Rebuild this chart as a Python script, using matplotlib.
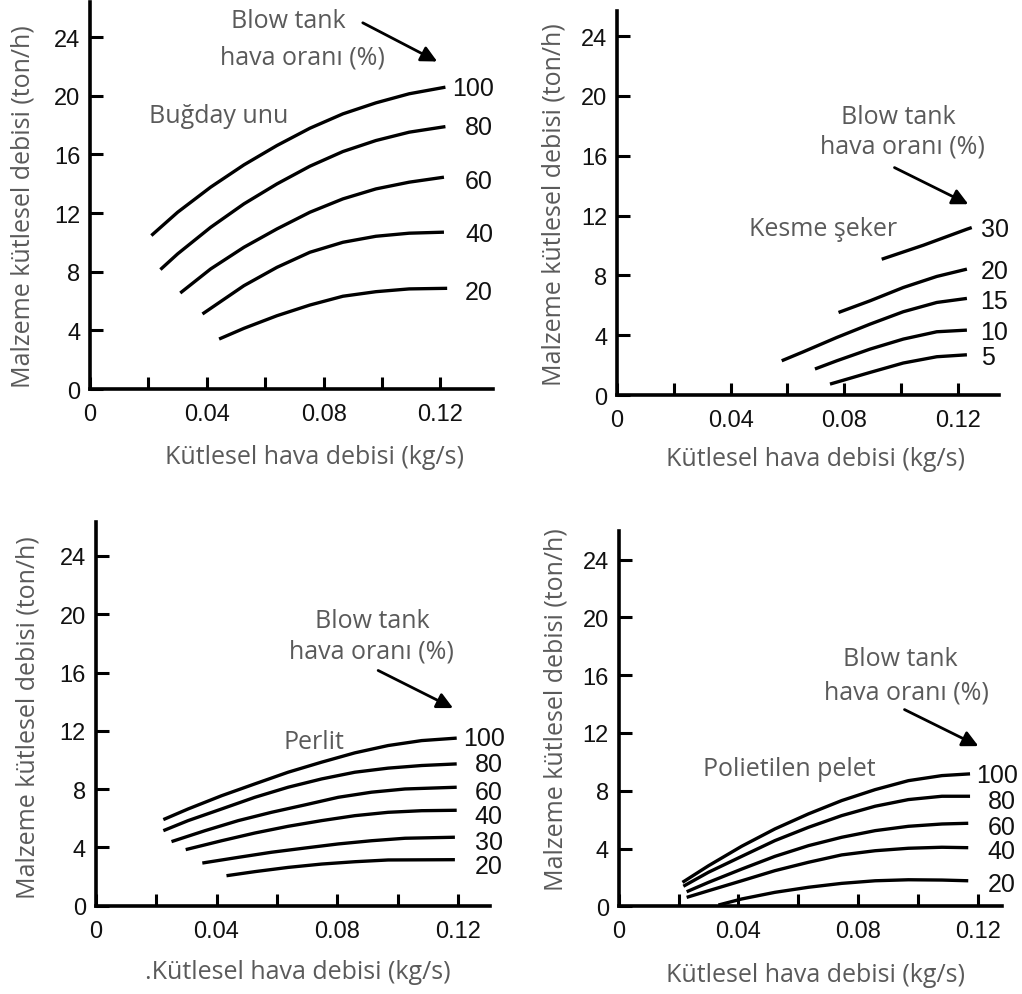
import matplotlib
matplotlib.use("Agg")
import matplotlib.pyplot as plt

# ---- data (x: kg/s, y: ton/h) ----
# Buğday unu
bugday_levels = ["100", "80", "60", "40", "20"]
bugday_x = [
    [0.0210, 0.0300, 0.0413, 0.0527, 0.0640, 0.0753, 0.0866, 0.0979, 0.1093, 0.1217],
    [0.0241, 0.0300, 0.0413, 0.0527, 0.0640, 0.0753, 0.0866, 0.0979, 0.1093, 0.1217],
    [0.0309, 0.0413, 0.0527, 0.0640, 0.0753, 0.0866, 0.0979, 0.1093, 0.1212],
    [0.0385, 0.0527, 0.0640, 0.0753, 0.0866, 0.0979, 0.1093, 0.1212],
    [0.0442, 0.0527, 0.0640, 0.0753, 0.0866, 0.0979, 0.1093, 0.1223],
]
bugday_y = [
    [10.47, 12.06, 13.77, 15.29, 16.61, 17.79, 18.77, 19.52, 20.14, 20.59],
    [8.15, 9.22, 11.03, 12.63, 13.99, 15.20, 16.20, 16.95, 17.52, 17.90],
    [6.55, 8.19, 9.67, 10.92, 12.06, 12.97, 13.65, 14.11, 14.45],
    [5.12, 7.05, 8.30, 9.33, 10.01, 10.42, 10.63, 10.70],
    [3.41, 4.14, 5.00, 5.73, 6.33, 6.64, 6.83, 6.87],
]
bugday_label_y = [20.5, 17.86, 14.2, 10.58, 6.6]

# Kesme şeker
seker_levels = ["30", "20", "15", "10", "5"]
seker_x = [
    [0.0932, 0.1079, 0.1232, 0.1249],
    [0.0780, 0.0891, 0.1008, 0.1126, 0.1232],
    [0.0580, 0.0656, 0.0774, 0.0891, 0.1008, 0.1126, 0.1232],
    [0.0697, 0.0774, 0.0891, 0.1008, 0.1126, 0.1232],
    [0.0750, 0.0891, 0.1008, 0.1126, 0.1232],
]
seker_y = [
    [9.08, 10.02, 11.09, 11.20],
    [5.52, 6.30, 7.19, 7.93, 8.42],
    [2.29, 2.89, 3.85, 4.74, 5.57, 6.19, 6.46],
    [1.74, 2.29, 3.07, 3.74, 4.23, 4.34],
    [0.73, 1.51, 2.14, 2.56, 2.69],
]
seker_label_y = [11.13, 8.3, 6.3, 4.23, 2.52]

# Perlit
perlit_levels = ["100", "80", "60", "40", "30", "20"]
perlit_x = [
    [0.0224, 0.0306, 0.0417, 0.0527, 0.0637, 0.0748, 0.0858, 0.0968, 0.1079, 0.1195],
    [0.0224, 0.0306, 0.0417, 0.0527, 0.0637, 0.0748, 0.0858, 0.0968, 0.1079, 0.1195],
    [0.0251, 0.0362, 0.0472, 0.0582, 0.0693, 0.0803, 0.0913, 0.1024, 0.1195],
    [0.0298, 0.0417, 0.0527, 0.0637, 0.0748, 0.0858, 0.0968, 0.1079, 0.1195],
    [0.0353, 0.0472, 0.0582, 0.0693, 0.0803, 0.0913, 0.1024, 0.1189],
    [0.0433, 0.0527, 0.0637, 0.0748, 0.0858, 0.0968, 0.1189],
]
perlit_y = [
    [5.91, 6.64, 7.55, 8.36, 9.16, 9.85, 10.49, 10.99, 11.33, 11.50],
    [5.15, 5.84, 6.64, 7.44, 8.13, 8.70, 9.16, 9.44, 9.62, 9.73],
    [4.40, 5.15, 5.84, 6.41, 6.92, 7.44, 7.79, 8.01, 8.13],
    [3.85, 4.46, 4.99, 5.45, 5.84, 6.18, 6.41, 6.52, 6.55],
    [2.93, 3.32, 3.67, 3.96, 4.24, 4.46, 4.63, 4.70],
    [2.06, 2.34, 2.63, 2.86, 3.02, 3.14, 3.16],
]
perlit_label_y = [11.5, 9.69, 7.79, 6.14, 4.35, 2.75]

# Polietilen pelet
pelet_levels = ["100", "80", "60", "40", "20"]
pelet_x = [
    [0.0213, 0.0300, 0.0411, 0.0522, 0.0634, 0.0745, 0.0857, 0.0968, 0.1080, 0.1174],
    [0.0216, 0.0300, 0.0411, 0.0522, 0.0634, 0.0745, 0.0857, 0.0968, 0.1080, 0.1174],
    [0.0227, 0.0300, 0.0411, 0.0522, 0.0634, 0.0745, 0.0857, 0.0968, 0.1080, 0.1168],
    [0.0227, 0.0300, 0.0411, 0.0522, 0.0634, 0.0745, 0.0857, 0.0968, 0.1080, 0.1168],
    [0.0333, 0.0411, 0.0522, 0.0634, 0.0745, 0.0857, 0.0968, 0.1080, 0.1168],
]
pelet_y = [
    [1.66, 2.81, 4.16, 5.36, 6.40, 7.32, 8.08, 8.70, 9.05, 9.17],
    [1.39, 2.36, 3.46, 4.55, 5.47, 6.28, 6.93, 7.39, 7.62, 7.62],
    [1.01, 1.66, 2.58, 3.46, 4.20, 4.78, 5.24, 5.54, 5.70, 5.75],
    [0.62, 1.08, 1.77, 2.47, 3.05, 3.56, 3.85, 4.02, 4.09, 4.06],
    [0.09, 0.51, 0.97, 1.32, 1.59, 1.77, 1.84, 1.82, 1.77],
]
pelet_label_y = [9.1, 7.32, 5.47, 3.85, 1.55]

ytick_vals = [0, 4, 8, 12, 16, 20, 24]
xtick_vals = [0, 0.02, 0.04, 0.06, 0.08, 0.10, 0.12]
xtick_text = ["0", "", "0.04", "", "0.08", "", "0.12"]

xlabel = "Kütlesel hava debisi (kg/s)"
ylabel = "Malzeme kütlesel debisi (ton/h)"

GRAY = "#5a5a5a"
NUM_FONT = "Liberation Sans"
TXT_FONT = "Open Sans"

fig = plt.figure(figsize=(10.22, 9.95), dpi=100)


def panel(rect, xmax, ymax, xs, ys, levels, label_x, label_y,
          name, name_xy, blow_xy, tank_xy, arr_from, arr_to, xl_xy, yl_xy, xl_text):
    ax = fig.add_axes(rect)
    for x, y in zip(xs, ys):
        ax.plot(x, y, color="black", lw=2.4, solid_capstyle="butt", solid_joinstyle="round")
    for i, lv in enumerate(levels):
        lx = label_x[0] if i == 0 else label_x[1]
        ax.text(lx, label_y[i], lv, ha="left", va="center", fontsize=18,
                family=NUM_FONT, color="#111111")
    ax.text(name_xy[0], name_xy[1], name, ha="center", va="center",
            fontsize=18, family=TXT_FONT, color=GRAY)
    ax.text(blow_xy[0], blow_xy[1], "Blow tank", ha="center", va="center",
            fontsize=18, family=TXT_FONT, color=GRAY)
    ax.text(tank_xy[0], tank_xy[1], "hava oranı (%)", ha="center", va="center",
            fontsize=18, family=TXT_FONT, color=GRAY)
    ax.annotate("", xy=arr_to, xytext=arr_from,
                arrowprops=dict(arrowstyle="-|>", color="black", lw=2,
                                mutation_scale=24, shrinkA=0, shrinkB=0))
    ax.set_xlim(0, xmax)
    ax.set_ylim(0, ymax)
    ax.set_yticks(ytick_vals)
    ax.set_yticklabels([str(v) for v in ytick_vals], family=NUM_FONT, fontsize=17, color="#111111")
    ax.set_xticks(xtick_vals)
    ax.set_xticklabels(xtick_text, family=NUM_FONT, fontsize=17, color="#111111")
    ax.tick_params(axis="both", direction="in", length=9, width=2.2)
    ax.tick_params(axis="x", pad=10)
    ax.tick_params(axis="y", pad=7)
    ax.spines["top"].set_visible(False)
    ax.spines["right"].set_visible(False)
    ax.spines["left"].set_linewidth(2.6)
    ax.spines["bottom"].set_linewidth(2.6)
    ax.patch.set_alpha(0)
    fig.text(xl_xy[0], xl_xy[1], xl_text, ha="center", va="center",
             fontsize=18, family=TXT_FONT, color=GRAY)
    fig.text(yl_xy[0], yl_xy[1], ylabel, ha="center", va="center", rotation=90,
             fontsize=18, family=TXT_FONT, color=GRAY)
    return ax


panel([0.0881, 0.608, 0.3943, 0.389], 0.138, 26.4,
      bugday_x, bugday_y, bugday_levels, (0.124, 0.1284), bugday_label_y,
      "Buğday unu", (0.0442, 18.66), (0.0679, 25.14), (0.0727, 22.64),
      (0.0934, 24.98), (0.1189, 22.34), (0.308, 0.5407), (0.0225, 0.792), xlabel)

panel([0.6037, 0.602, 0.3738, 0.3862], 0.1345, 25.7,
      seker_x, seker_y, seker_levels, (0.128, 0.128), seker_label_y,
      "Kesme şeker", (0.0724, 11.13), (0.0989, 18.66), (0.1006, 16.66),
      (0.0977, 15.21), (0.1237, 12.76), (0.798, 0.5377), (0.542, 0.794), xlabel)

panel([0.0936, 0.0887, 0.3858, 0.3853], 0.1305, 26.3,
      perlit_x, perlit_y, perlit_levels, (0.1217, 0.1255), perlit_label_y,
      "Perlit", (0.0724, 11.27), (0.0917, 19.57), (0.0913, 17.51),
      (0.0935, 16.14), (0.1183, 13.56), (0.2916, 0.0231), (0.0274, 0.2784), "." + xlabel)

panel([0.6054, 0.0881, 0.3748, 0.3775], 0.128, 26.0,
      pelet_x, pelet_y, pelet_levels, (0.1194, 0.1233), pelet_label_y,
      "Polietilen pelet", (0.057, 9.51), (0.0941, 17.19), (0.0963, 14.83),
      (0.0955, 13.62), (0.1202, 11.09), (0.798, 0.0201), (0.544, 0.2864), xlabel)

fig.savefig("out.png", dpi=100)
